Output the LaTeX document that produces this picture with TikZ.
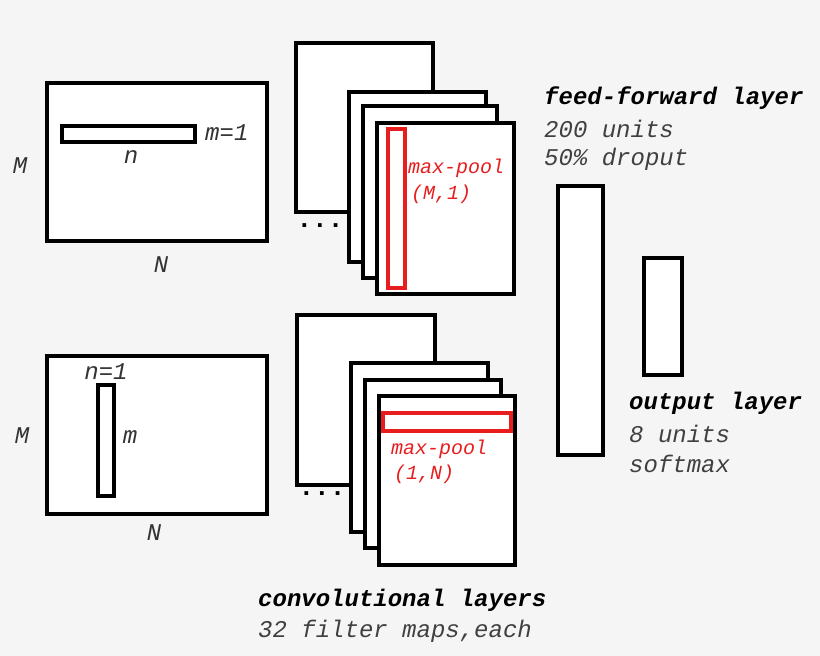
\documentclass[tikz,border=0pt]{standalone}
\usepackage{fontspec}
\setmainfont{Liberation Mono}
\definecolor{pool}{RGB}{232,30,30}
\begin{document}
\begin{tikzpicture}[x=1pt,y=-1pt,
  box/.style={draw=black,line width=4pt,fill=white},
  red/.style={draw=pool,line width=4pt,fill=white},
  lab/.style={font=\fontsize{24}{24}\selectfont\itshape,text=black!80,inner sep=0pt},
  rlab/.style={font=\fontsize{20}{20}\selectfont\itshape,text=pool,inner sep=0pt,anchor=west},
  head/.style={font=\fontsize{24}{24}\selectfont\bfseries\itshape,inner sep=0pt,anchor=west},
  sub/.style={font=\fontsize{24}{24}\selectfont\itshape,text=black!75,inner sep=0pt,anchor=west}]
\fill[fill={rgb,255:red,245;green,245;blue,245}] (0,0) rectangle (820,656);
\useasboundingbox (0,0) rectangle (820,656);
% top input
\draw[box] (47,83) rectangle (267,241);
\draw[box] (62,126) rectangle (195,142);
\node[lab,anchor=west] (m1) at (205,133) {m=1};
\node[lab] (n1) at (131,157) {n};
\node[lab] (M1) at (20,166) {M};
\node[lab] (N1) at (161,265) {N};
% top conv
\draw[box] (296,43) rectangle (433,212);
\draw[box] (349,92) rectangle (486,262);
\draw[box] (363,106) rectangle (497,278);
\draw[box] (377,123) rectangle (514,294);
\draw[red] (388,129) rectangle (405,288);
\node[rlab] (mp1) at (408,168) {max-pool};
\node[rlab] (mp1b) at (411,194) {(M,1)};
\node[lab,font=\fontsize{26}{26}\selectfont\bfseries,text=black] (d1) at (320,226) {...};
% bottom input
\draw[box] (47,356) rectangle (267,514);
\draw[box] (98,385) rectangle (114,496);
\node[lab] (n2) at (106,372) {n=1};
\node[lab] (m2) at (130,437) {m};
\node[lab] (M2) at (22,436) {M};
\node[lab] (N2) at (154,533) {N};
% bottom conv
\draw[box] (297,315) rectangle (435,485);
\draw[box] (351,363) rectangle (488,532);
\draw[box] (365,380) rectangle (501,548);
\draw[box] (379,396) rectangle (515,565);
\draw[red] (383,413) rectangle (511,431);
\node[rlab] (mp2) at (391,449) {max-pool};
\node[rlab] (mp2b) at (394,474) {(1,N)};
\node[lab,font=\fontsize{26}{26}\selectfont\bfseries,text=black] (d2) at (322,494) {...};
% dense layers
\draw[box] (558,186) rectangle (603,455);
\draw[box] (644,258) rectangle (682,375);
\node[head] (ff) at (544,98) {feed-forward layer};
\node[sub] (ff1) at (544,129) {200 units};
\node[sub] (ff2) at (544,159) {50\% droput};
\node[head] (ol) at (629,403) {output layer};
\node[sub] (ol1) at (629,434) {8 units};
\node[sub] (ol2) at (629,464) {softmax};
\node[head] (cl) at (258,600) {convolutional layers};
\node[sub] (cl1) at (258,631) {32 filter maps,each};
\end{tikzpicture}
\end{document}
